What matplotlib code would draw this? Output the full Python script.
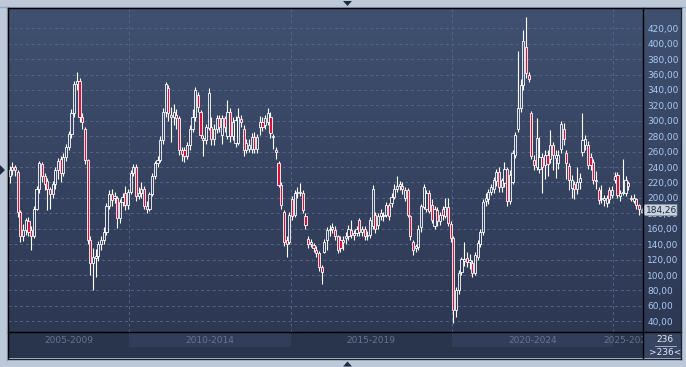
import numpy as np
import matplotlib
matplotlib.use("Agg")
import matplotlib.pyplot as plt
import matplotlib.transforms as mtransforms
from matplotlib.patches import Polygon
from matplotlib.lines import Line2D
from matplotlib.colors import LinearSegmentedColormap

# --- dane: miesieczne swiece (236 szt.) ---
OPEN = [
    228, 236, 240, 234, 182, 150, 158, 170, 158, 151, 186, 212,
    244, 228, 222, 212, 205, 218, 236, 250, 232, 253, 266, 283,
    310, 348, 352, 305, 290, 249, 146, 116, 122, 125, 140, 145,
    156, 190, 205, 200, 200, 174, 195, 207, 191, 208, 232, 240,
    202, 206, 212, 190, 186, 205, 228, 245, 249, 275, 311, 342,
    308, 305, 308, 304, 262, 262, 255, 268, 290, 305, 333, 312,
    278, 275, 291, 292, 276, 290, 303, 282, 303, 280, 312, 280,
    271, 271, 302, 290, 262, 264, 264, 279, 264, 292, 299, 295,
    299, 305, 279, 262, 245, 217, 182, 145, 143, 198, 178, 206,
    207, 206, 177, 147, 140, 139, 133, 128, 111, 130, 145, 158,
    160, 159, 150, 145, 143, 148, 150, 158, 152, 155, 171, 156,
    160, 150, 152, 163, 178, 165, 176, 177, 178, 191, 193, 201,
    212, 215, 215, 200, 210, 176, 143, 135, 136, 162, 188, 186,
    206, 191, 164, 184, 170, 186, 177, 188, 166, 148, 55, 80,
    104, 118, 122, 117, 116, 103, 124, 140, 156, 196, 198, 208,
    212, 222, 234, 214, 219, 237, 196, 221, 256, 290, 316, 346,
    396, 360, 310, 249, 240, 238, 253, 243, 256, 250, 268, 252,
    245, 264, 290, 258, 241, 213, 218, 211, 220, 260, 268, 269,
    253, 247, 223, 210, 198, 197, 193, 210, 204, 223, 230, 202,
    206, 206, 219, 200, 196, 198, 191, 182,
]
HIGH = [
    241, 246, 243, 236, 184, 166, 174, 175, 163, 190, 216, 248,
    246, 232, 226, 214, 222, 240, 252, 254, 258, 270, 287, 315,
    352, 363, 356, 310, 292, 251, 150, 135, 134, 144, 150, 162,
    194, 210, 212, 208, 202, 198, 206, 215, 212, 236, 244, 244,
    214, 220, 216, 196, 208, 232, 248, 254, 280, 316, 350, 346,
    318, 322, 315, 306, 266, 266, 272, 295, 315, 344, 338, 314,
    282, 296, 342, 305, 296, 308, 308, 308, 306, 327, 316, 305,
    306, 316, 308, 294, 276, 276, 284, 286, 283, 306, 305, 308,
    316, 312, 283, 266, 248, 220, 184, 150, 182, 202, 210, 214,
    219, 210, 180, 150, 147, 142, 137, 131, 113, 147, 162, 165,
    168, 163, 152, 150, 150, 156, 165, 171, 159, 164, 174, 164,
    163, 157, 175, 217, 182, 180, 186, 182, 195, 194, 206, 218,
    228, 222, 220, 214, 213, 178, 146, 140, 165, 192, 218, 210,
    210, 198, 190, 188, 182, 190, 200, 200, 170, 150, 84, 106,
    124, 143, 130, 127, 120, 130, 146, 160, 198, 206, 212, 218,
    227, 238, 240, 226, 246, 240, 236, 262, 285, 390, 354, 418,
    434, 363, 313, 256, 303, 279, 258, 262, 262, 288, 272, 262,
    262, 300, 297, 262, 245, 230, 222, 240, 232, 310, 282, 274,
    258, 250, 235, 214, 217, 204, 204, 214, 216, 234, 233, 210,
    251, 228, 222, 204, 205, 200, 192, 186,
]
LOW = [
    219, 230, 228, 175, 143, 144, 152, 150, 132, 148, 184, 206,
    220, 210, 184, 186, 200, 212, 225, 220, 228, 248, 262, 278,
    305, 340, 298, 290, 244, 140, 100, 81, 98, 118, 133, 140,
    152, 186, 190, 194, 161, 168, 190, 184, 186, 205, 228, 196,
    198, 200, 185, 180, 183, 202, 225, 240, 246, 270, 305, 300,
    272, 295, 290, 256, 248, 246, 250, 262, 285, 300, 312, 278,
    254, 270, 288, 268, 268, 284, 285, 270, 285, 276, 272, 275,
    266, 268, 292, 255, 258, 260, 258, 258, 258, 282, 287, 290,
    294, 278, 264, 250, 214, 186, 138, 123, 140, 172, 175, 200,
    202, 180, 160, 135, 136, 130, 124, 105, 89, 128, 132, 150,
    155, 145, 128, 130, 133, 140, 145, 148, 146, 150, 150, 150,
    145, 146, 148, 160, 155, 160, 172, 170, 175, 172, 188, 198,
    208, 210, 205, 196, 175, 145, 126, 130, 133, 156, 185, 182,
    180, 168, 160, 163, 165, 172, 174, 163, 143, 38, 45, 76,
    100, 112, 110, 108, 98, 100, 120, 136, 152, 190, 192, 204,
    207, 216, 208, 208, 214, 189, 192, 218, 252, 286, 312, 340,
    355, 350, 250, 236, 236, 232, 206, 225, 228, 245, 236, 226,
    238, 258, 268, 225, 210, 200, 198, 205, 212, 255, 262, 238,
    236, 218, 212, 192, 194, 190, 188, 194, 200, 219, 200, 196,
    204, 203, 210, 196, 194, 186, 178, 180,
]
CLOSE = [
    236, 240, 236, 182, 150, 158, 171, 156, 150, 186, 212, 245,
    228, 218, 212, 205, 218, 236, 248, 232, 253, 266, 283, 310,
    348, 352, 305, 298, 249, 146, 116, 124, 125, 140, 145, 156,
    190, 205, 197, 202, 174, 195, 201, 191, 208, 232, 240, 202,
    206, 212, 190, 186, 205, 228, 245, 249, 275, 311, 348, 310,
    305, 312, 304, 262, 257, 255, 268, 290, 305, 340, 318, 282,
    275, 292, 336, 276, 290, 303, 292, 303, 292, 312, 280, 299,
    301, 305, 299, 262, 271, 268, 279, 264, 279, 299, 292, 303,
    310, 284, 280, 259, 217, 191, 143, 140, 178, 177, 206, 208,
    208, 184, 165, 140, 143, 135, 129, 111, 104, 143, 158, 160,
    162, 150, 132, 135, 146, 150, 160, 152, 155, 160, 156, 160,
    150, 152, 171, 212, 160, 176, 181, 178, 191, 176, 201, 212,
    215, 218, 212, 210, 178, 150, 132, 137, 160, 190, 214, 206,
    183, 172, 186, 170, 178, 178, 188, 167, 148, 55, 80, 102,
    121, 121, 117, 120, 103, 126, 141, 156, 195, 200, 208, 214,
    223, 234, 214, 223, 237, 196, 230, 258, 281, 316, 346, 403,
    362, 354, 255, 243, 278, 253, 240, 256, 244, 268, 256, 256,
    256, 296, 277, 245, 223, 223, 211, 220, 226, 275, 276, 243,
    243, 223, 222, 197, 200, 200, 200, 198, 210, 228, 204, 206,
    208, 223, 215, 199, 200, 191, 186, 184.26,
]

# okresy na dolnym pasku: indeks swiecy, od ktorej zaczyna sie dany okres
PERIOD_LABELS = ["2005-2009", "2010-2014", "2015-2019", "2020-2024", "2025-2029"]
PERIOD_STARTS = [-15, 45, 105, 165, 225, 285]
Y_TICKS = list(range(40, 421, 20))
BAR_COUNT = "236"

# --- wyglad ---
W, H = 686, 367
BORDER = "#BDC9D9"
BG_TOP, BG_BOTTOM = "#405070", "#2D3853"
GRID = "#55658A"
TICK_COLOR = "#A9C9F2"
RED = "#D5123A"
XLIM = (-0.6, 235.5)
YLIM = (26.1, 446.3)


def rect(x0, y0, x1, y1):
    """Prostokat w pikselach (od gory) -> wspolrzedne figury."""
    return [x0 / W, 1 - y1 / H, (x1 - x0) / W, (y1 - y0) / H]


def fig_line(fig, xs, ys, color, lw=1.0):
    fig.add_artist(Line2D([x / W for x in xs], [1 - y / H for y in ys],
                          transform=fig.transFigure, color=color, lw=lw))


def fig_triangle(fig, pts, color="#1F2B42"):
    fig.add_artist(Polygon([(x / W, 1 - y / H) for x, y in pts], closed=True,
                           transform=fig.transFigure, color=color, lw=0))


fig = plt.figure(figsize=(W / 100, H / 100), dpi=100, facecolor=BORDER)

# tlo z gradientem (wykres + prawy panel)
bg = fig.add_axes(rect(8, 8, 681, 332))
bg.axis("off")
cmap = LinearSegmentedColormap.from_list("bg", [BG_TOP, BG_BOTTOM])
bg.imshow(np.linspace(0, 1, 256).reshape(-1, 1), aspect="auto", cmap=cmap,
          extent=[0, 1, 0, 1])

ax = fig.add_axes(rect(8, 8, 643, 332))
ax.set_facecolor("none")
for s in ax.spines.values():
    s.set_visible(False)

o = np.array(OPEN, dtype=float)
h = np.array(HIGH, dtype=float)
l = np.array(LOW, dtype=float)
c = np.array(CLOSE, dtype=float)
idx = np.arange(len(c))
top = np.maximum(o, c)
bot = np.minimum(o, c)
up = c >= o

ax.vlines(idx, top, h, color="white", lw=0.8, zorder=3)
ax.vlines(idx, l, bot, color="white", lw=0.8, zorder=3)
ax.bar(idx[up], (top - bot)[up], bottom=bot[up], width=0.8, facecolor="none",
       edgecolor="white", lw=0.6, zorder=4)
ax.bar(idx[~up], (top - bot)[~up], bottom=bot[~up], width=0.8, facecolor=RED,
       edgecolor="white", lw=0.6, zorder=4)

ax.set_xlim(*XLIM)
ax.set_ylim(*YLIM)
ax.set_xticks([])
ax.yaxis.tick_right()
ax.set_yticks(Y_TICKS)
ax.set_yticklabels([f"{v:.2f}".replace(".", ",") for v in Y_TICKS])
ax.tick_params(axis="y", length=0, pad=3, labelsize=6.5, labelcolor=TICK_COLOR)
ax.set_axisbelow(True)
ax.grid(axis="y", color=GRID, lw=0.7, ls=(0, (3, 3)))
for start in PERIOD_STARTS[1:-1]:
    ax.axvline(start - 0.5, color=GRID, lw=0.7, ls=(0, (3, 3)), zorder=1)

# etykieta ostatniej ceny
last = CLOSE[-1]
hh = 5.5 * (YLIM[1] - YLIM[0]) / 324
tr = mtransforms.blended_transform_factory(fig.transFigure, ax.transData)
tag = [(641.5, last), (645, last + hh), (677, last + hh), (677, last - hh), (645, last - hh)]
ax.add_patch(Polygon([(x / W, y) for x, y in tag], closed=True, transform=tr,
                     facecolor="#C9D2DE", edgecolor="#8D9AB0", lw=0.5,
                     clip_on=False, zorder=6))
ax.text(661.5 / W, last, f"{last:.2f}".replace(".", ","), transform=tr,
        ha="center", va="center", fontsize=6.5, color="#1B2640", zorder=7,
        clip_on=False)

# dolny pasek z okresami
bar = fig.add_axes(rect(8, 332, 643, 358))
bar.set_facecolor("#29344D")
bar.set_xlim(*XLIM)
bar.set_ylim(0, 1)
bar.set_xticks([])
bar.set_yticks([])
for s in bar.spines.values():
    s.set_visible(False)
for i, label in enumerate(PERIOD_LABELS):
    a, b = PERIOD_STARTS[i] - 0.5, PERIOD_STARTS[i + 1] - 0.5
    if i % 2 == 1:
        bar.axvspan(a, b, ymin=0.42, ymax=0.96, color="#313D59", lw=0)
    mid = (max(a, XLIM[0]) + min(b, XLIM[1])) / 2
    bar.text(mid, 0.69, label, ha="center", va="center", fontsize=6.5,
             color="#66748F", clip_on=True)

# prawy dolny panel
rb = fig.add_axes(rect(643, 332, 681, 358))
rb.set_facecolor("#374462")
rb.set_xlim(0, 1)
rb.set_ylim(0, 1)
rb.set_xticks([])
rb.set_yticks([])
for s in rb.spines.values():
    s.set_visible(False)
rb.text(0.58, 0.70, BAR_COUNT, ha="center", va="center", fontsize=6.5, color="#E2E9F4")
rb.plot([0.32, 0.86], [0.47, 0.47], color="#AFC0D8", lw=0.6)
rb.text(0.58, 0.20, f">{BAR_COUNT}<", ha="center", va="center", fontsize=6.5, color="#E2E9F4")

# ramki
fig_line(fig, [0, 686], [6.5, 6.5], "#97A7BE")
fig_line(fig, [6.5, 6.5], [6.5, 360], "#97A7BE")
fig_line(fig, [8, 681], [8, 8], "black")
fig_line(fig, [8, 8], [8, 358], "black")
fig_line(fig, [643, 643], [8, 358], "black")
fig_line(fig, [8, 681], [332, 332], "black")
fig_line(fig, [8, 681], [358.5, 358.5], "#1C2538")
fig_line(fig, [681, 681], [8, 358.5], "#1C2538")

fig_triangle(fig, [(343, 1), (352, 1), (347.5, 6)])
fig_triangle(fig, [(343, 366.5), (352, 366.5), (347.5, 361.5)])
fig_triangle(fig, [(0, 165), (0, 175), (5, 170)])

fig.savefig("out.png", dpi=100, facecolor=fig.get_facecolor())
